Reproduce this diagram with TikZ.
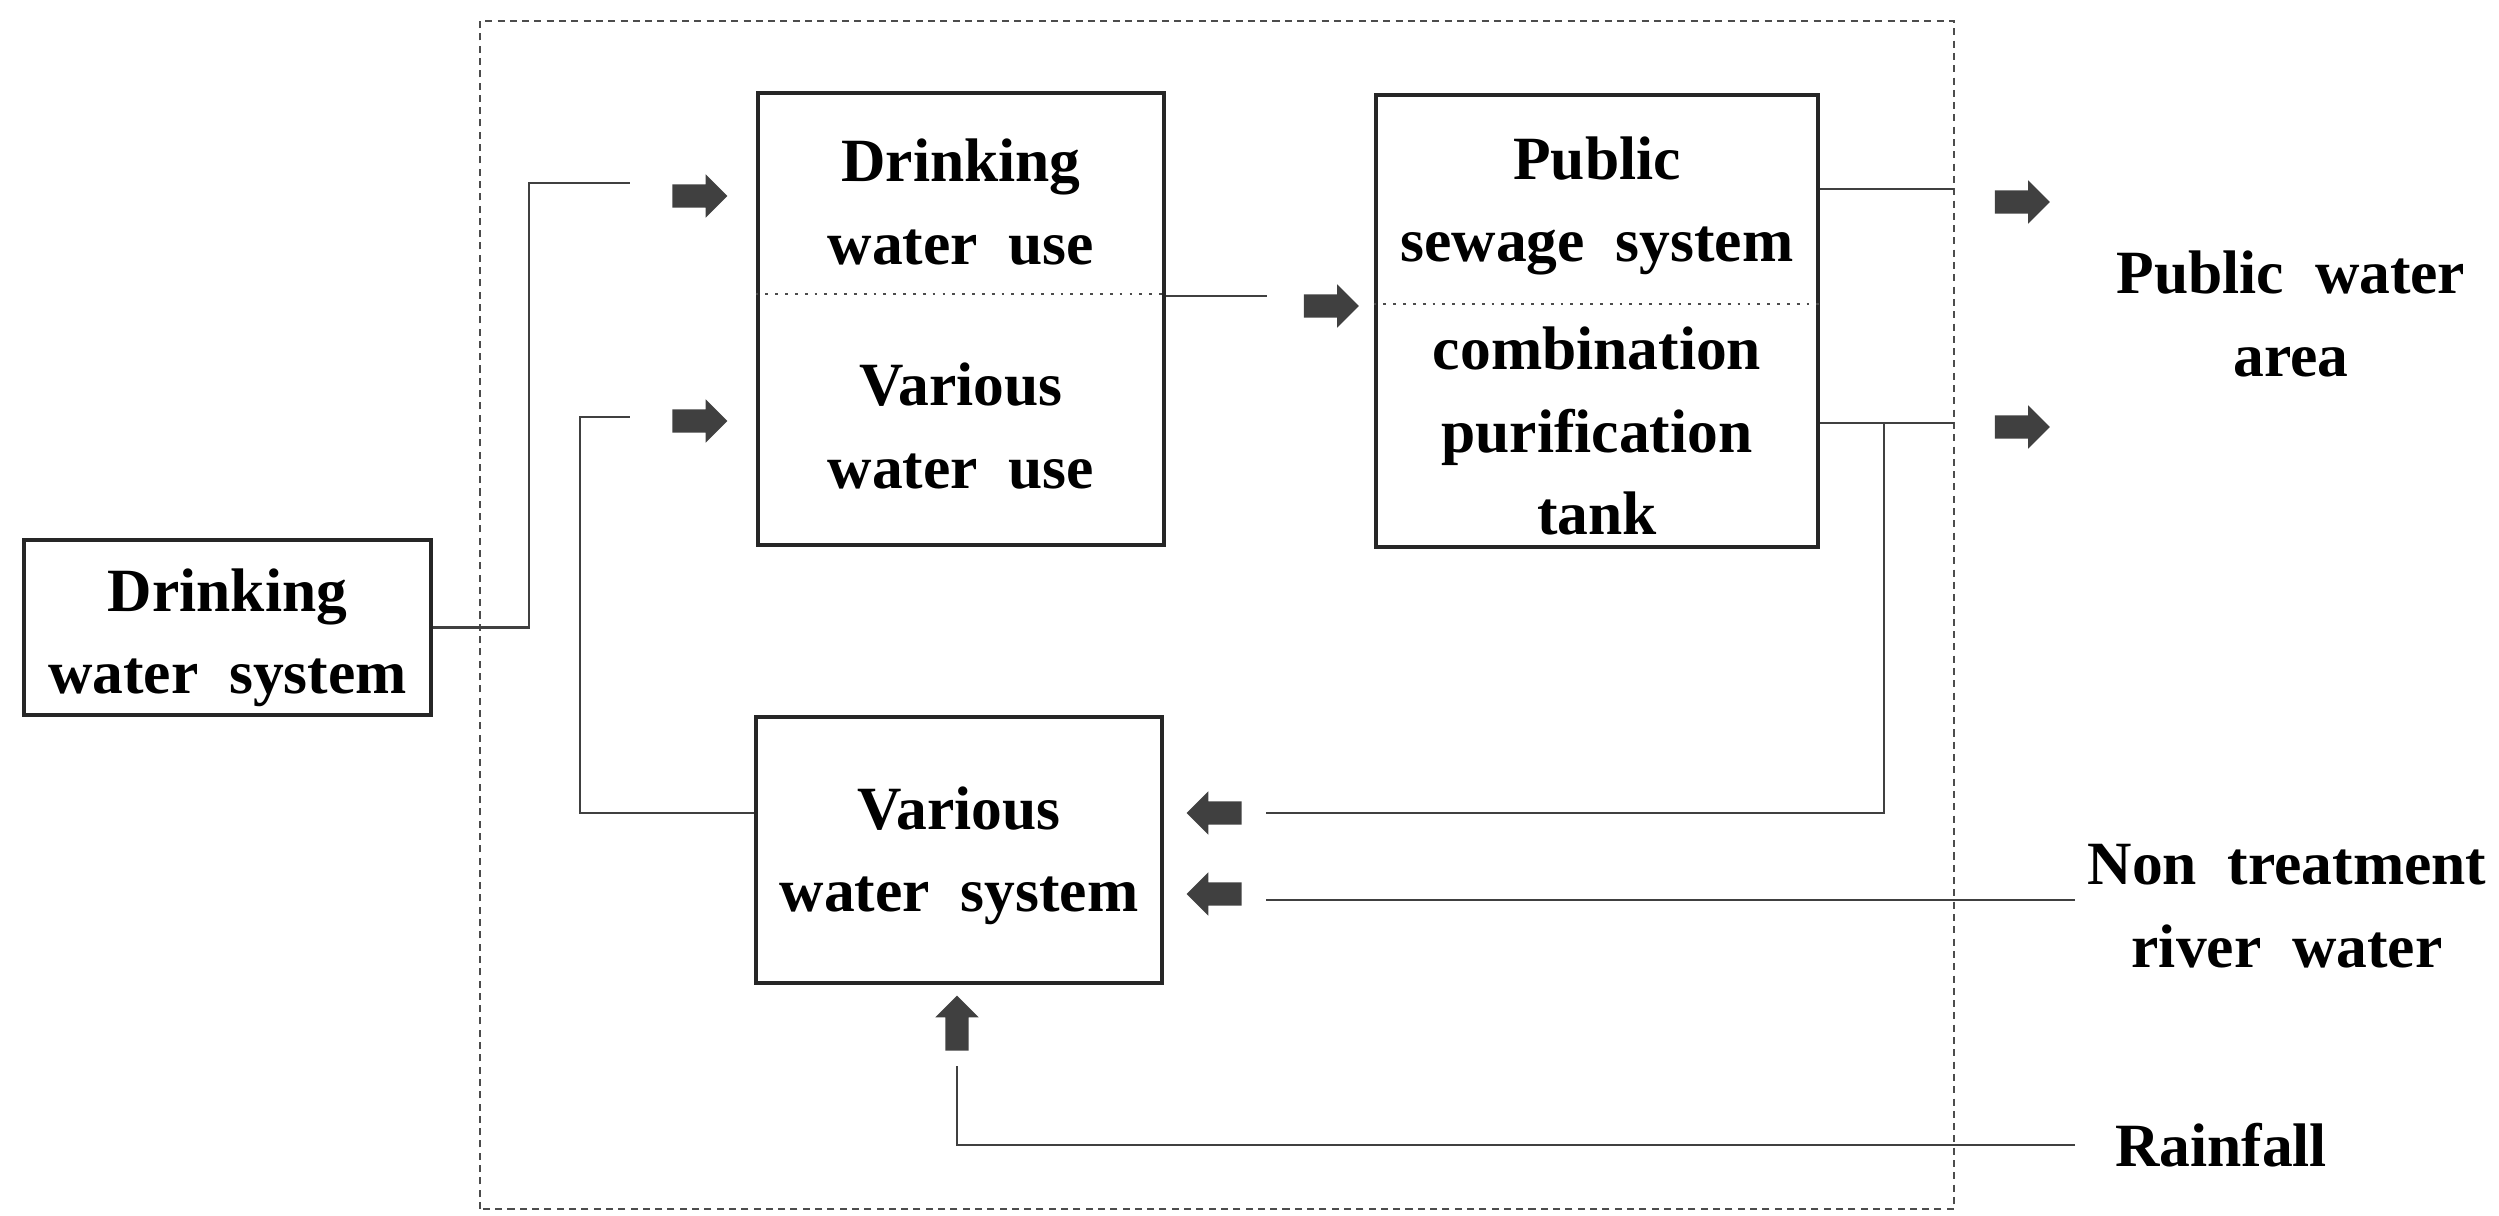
\documentclass[tikz,border=0pt]{standalone}
\usepackage{fontspec}
\setmainfont{Liberation Serif}[WordSpace=2]
\usetikzlibrary{shapes.arrows}

\begin{document}
\begin{tikzpicture}[
	% Define the styles for boxes, texts and connectors
	box/.style={rectangle, draw=black!85, line width=1.4pt, inner sep=0pt},
	txt/.style={align=center, inner sep=0pt, font=\fontsize{17.5}{23.5}\selectfont\bfseries},
	divider/.style={draw=black!70, line width=0.8pt, dotted},
	flow/.style={draw=black!75, line width=0.8pt},
	fatarrow/.style={single arrow, fill=black!75, inner sep=0.11cm, minimum height=0.55cm,
		single arrow head extend=0.1cm, single arrow head indent=0pt},
	frame/.style={draw=black!70, line width=0.6pt, dash pattern=on 2pt off 1.5pt}
	]
	\useasboundingbox (0,0) rectangle (24.99,12.16);
	
	% --- FRAME ---
	\draw[frame] (4.80,0.07) rectangle (19.54,11.95);
	
	% --- BOXES ---
	% Format: \node[box, size] (internal_name) at (x,y) {};
	
	\node[box, minimum width=4.07cm, minimum height=1.75cm] (dws) at (2.275,5.885) {};
	\node[box, minimum width=4.06cm, minimum height=4.52cm] (use) at (9.61,8.97) {};
	\node[box, minimum width=4.42cm, minimum height=4.52cm] (pss) at (15.97,8.95) {};
	\node[box, minimum width=4.06cm, minimum height=2.66cm] (vws) at (9.59,3.66) {};
	
	\draw[divider] (use.west |- 0,9.22) -- (use.east |- 0,9.22);
	\draw[divider] (pss.west |- 0,9.12) -- (pss.east |- 0,9.12);
	
	% --- TEXTS ---
	\node[txt] (dwsname) at (2.275,5.78) {Drinking\\water system};
	\node[txt] (drinkuse) at (9.61,10.14) {Drinking\\water use};
	\node[txt] (varuse) at (9.61,7.90) {Various\\water use};
	\node[txt] (sewage) at (15.97,10.10) {Public\\sewage system};
	\node[txt] (tank) at (15.97,7.85) {combination\\purification\\tank};
	\node[txt] (vwsname) at (9.59,3.60) {Various\\water system};
	\node[txt] (pubarea) at (22.91,9.02) {Public water\\area};
	\node[txt] (river) at (22.87,3.10) {Non treatment\\river water};
	\node[txt] (rain) at (22.21,0.71) {Rainfall};
	
	% --- ARROWS ---
	\node[fatarrow] (a1) at (6.94,10.20) {};
	\node[fatarrow] (a2) at (6.94,7.95) {};
	\node[fatarrow] (a3) at (13.255,9.10) {};
	\node[fatarrow] (a4) at (20.165,10.14) {};
	\node[fatarrow] (a5) at (20.165,7.89) {};
	\node[fatarrow, shape border rotate=180] (a6) at (12.20,4.03) {};
	\node[fatarrow, shape border rotate=180] (a7) at (12.20,3.22) {};
	\node[fatarrow, shape border rotate=90] (a8) at (9.57,1.87) {};
	
	% --- CONNECTORS ---
	\coordinate (in1) at (6.30,10.33);
	\coordinate (in2) at (6.30,7.99);
	\coordinate (mid) at (12.67,9.20);
	\coordinate (out1) at (19.54,10.27);
	\coordinate (out2) at (19.54,7.93);
	\coordinate (branch) at (18.84,7.93);
	\coordinate (back1) at (12.66,4.03);
	\coordinate (src2) at (20.75,3.16);
	\coordinate (back2) at (12.66,3.16);
	\coordinate (src3) at (20.75,0.71);
	\coordinate (rainup) at (9.57,1.50);
	
	\draw[flow] (dws.east) -- (5.29,5.885) |- (in1);
	\draw[flow] (vws.west |- a6) -- (5.80,4.03) |- (in2);
	\draw[flow] (use.east |- mid) -- (mid);
	\draw[flow] (pss.east |- out1) -- (out1);
	\draw[flow] (pss.east |- out2) -- (out2);
	\draw[flow] (branch) |- (back1);
	\draw[flow] (src2) -- (back2);
	\draw[flow] (src3) -| (rainup);
	
\end{tikzpicture}
\end{document}
